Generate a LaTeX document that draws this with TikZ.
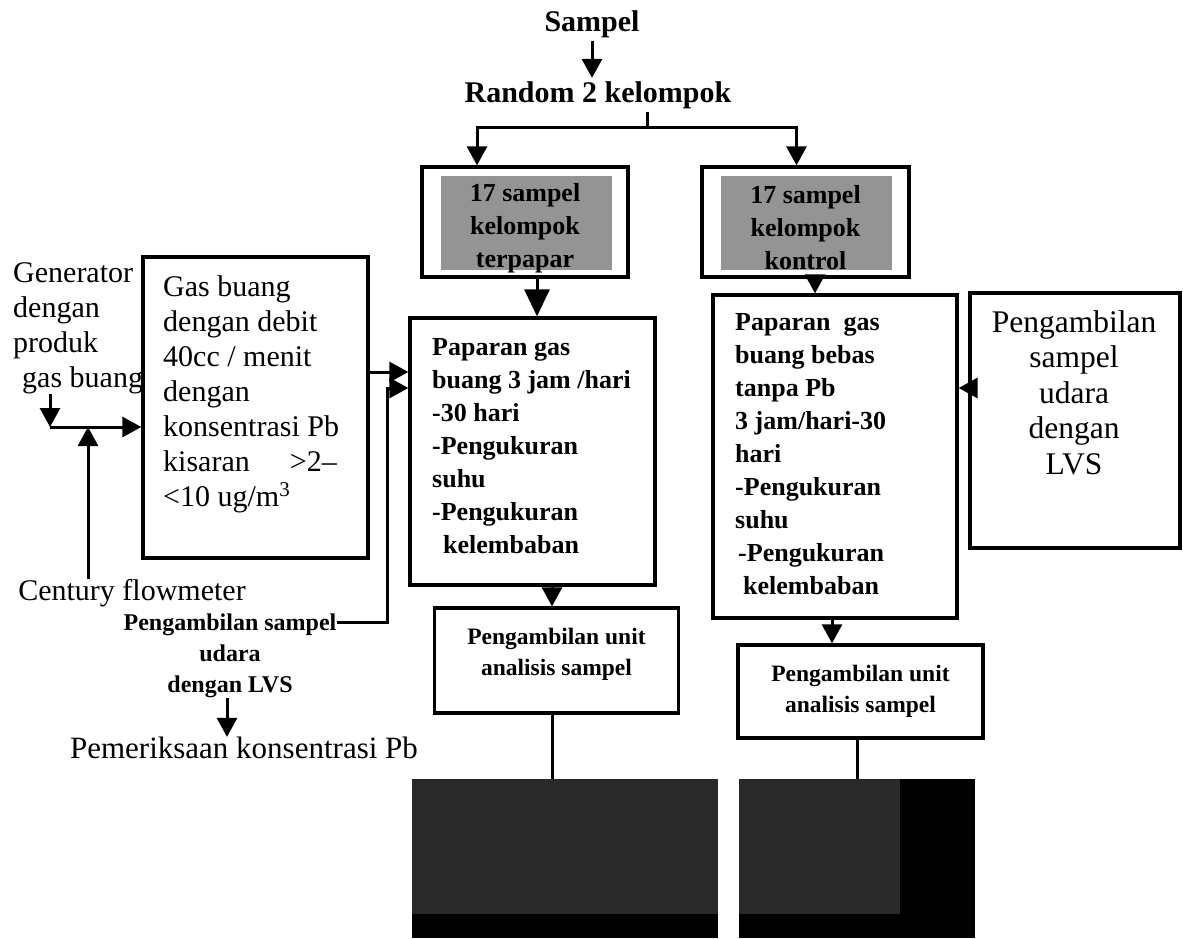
\documentclass[tikz,border=0pt]{standalone}
\usepackage{fontspec}
\setmainfont{Liberation Serif}
\usetikzlibrary{arrows.meta, backgrounds, calc}
\tikzset{
    frame/.style={rectangle, draw=black, line width=3.3pt, inner sep=0pt},
    grpbox/.style={frame, minimum width=206pt, minimum height=110pt, align=center, font=\fontsize{26}{33}\selectfont\bfseries},
    anabox/.style={frame, minimum width=244pt, align=center, font=\fontsize{23.5}{31}\selectfont\bfseries},
    headlbl/.style={font=\fontsize{30}{34}\selectfont\bfseries},
    plainlbl/.style={inner sep=0pt, align=left, font=\fontsize{30}{35}\selectfont},
    steplbl/.style={inner sep=0pt, align=left, font=\fontsize{26}{33}\selectfont\bfseries},
    smalllbl/.style={inner sep=0pt, align=center, font=\fontsize{24}{31}\selectfont\bfseries},
    dotfill/.style={fill=black!42},
    photo/.style={fill=black!84},
    arr/.style={-{Triangle[length=19pt, width=20pt]}, line width=3pt},
    bigarr/.style={-{Triangle[length=27pt, width=25pt]}, line width=3pt},
    link/.style={line width=3pt}
}

\begin{document}
\begin{tikzpicture}[x=1pt, y=-1pt]
    \useasboundingbox (0,0) rectangle (1183,938);

    % top of the flow
    \node[headlbl] (sampel) at (592,24) {Sampel};
    \node[headlbl] (random) at (598,95) {Random 2 kelompok};
    \coordinate (fork) at (647,127);

    % the two groups
    \node[grpbox] (grpA) at (525,222) {\rule{0pt}{30pt}17 sampel\\kelompok\\terpapar};
    \node[grpbox, minimum width=207pt] (grpB) at (805.5,222) {\rule{0pt}{30pt}17 sampel\\kelompok\\kontrol};

    % exposure boxes
    \node[frame, minimum width=245pt, minimum height=267pt] (expA) at (532.5,451.5) {};
    \node[steplbl, anchor=north west] (expAtxt) at (432,338) {Paparan gas\\buang 3 jam /hari\\-30 hari\\-Pengukuran\\suhu\\-Pengukuran\\\hspace*{11pt}kelembaban};
    \node[frame, minimum width=244pt, minimum height=323pt] (expB) at (835,456.5) {};
    \node[steplbl, anchor=north west] (expBtxt) at (735,313) {Paparan\ \ gas\\buang bebas\\tanpa Pb\\3 jam/hari-30\\hari\\-Pengukuran\\suhu\\\hspace*{3pt}-Pengukuran\\\hspace*{8pt}kelembaban};

    % air sampling (right)
    \node[frame, minimum width=210pt, minimum height=255pt] (lvsbox) at (1075,420.5) {};
    \node[plainlbl, align=center, anchor=north, font=\fontsize{31.5}{35.5}\selectfont] (lvstxt) at (1074,310) {Pengambilan\\sampel\\udara\\dengan\\LVS};

    % gas source (left)
    \node[plainlbl, anchor=north west] (gen) at (13,262) {Generator\\dengan\\produk\\\hspace*{9pt}gas buang};
    \node[frame, minimum width=225pt, minimum height=301pt] (gas) at (255.5,407.5) {};
    \node[plainlbl, anchor=north west] (gastxt) at (163,275) {Gas buang\\dengan debit\\40cc / menit\\dengan\\konsentrasi Pb\\kisaran\hspace{40pt}>2–\\<10 ug/m\textsuperscript{3}};
    \coordinate (join) at (50,427);
    \coordinate (meet) at (88,427);
    \node[plainlbl] (flow) at (132,593) {Century flowmeter};
    \node[smalllbl] (lvslbl) at (230,656) {Pengambilan sampel\\udara\\dengan LVS};
    \node[plainlbl, font=\fontsize{31}{35}\selectfont] (periksa) at (244,748) {Pemeriksaan konsentrasi Pb};

    % analysis units
    \node[anabox, minimum height=105pt] (anaA) at (556.5,660.5) {Pengambilan unit\\analisis sampel\\[-14pt]};
    \node[anabox, minimum width=245pt, minimum height=93pt] (anaB) at (860.5,691.5) {Pengambilan unit\\analisis sampel};

    % photos
    \node[photo, minimum width=306pt, minimum height=159pt, inner sep=0pt] (picA) at (565,858.5) {};
    \fill[black] (412,914) rectangle (718,938);
    \node[fill=black, minimum width=236pt, minimum height=159pt, inner sep=0pt] (picB) at (857,858.5) {};
    \fill[photo] (739,779) rectangle (900,914);

    % connectors
    \draw[arr] (sampel.south -| 592,0) -- (random.north -| 592,0);
    \draw[link] (random.south -| fork) -- (fork);
    \draw[arr] (fork) -| ([xshift=-48pt]grpA.north);
    \draw[arr] (fork) -| ([xshift=-9pt]grpB.north);
    \draw[bigarr] (grpA.south -| 537,0) -- (expA.north -| 537,0);
    \draw[arr] (grpB.south -| 815,0) -- (expB.north -| 815,0);
    \draw[arr] (gen.south -| join) -- (join);
    \draw[arr] (join) -- (join -| gas.west);
    \draw[arr] (flow.north -| meet) -- (meet);
    \draw[arr] (gas.east |- 0,372) -- (expA.west |- 0,372);
    \draw[arr] (lvslbl.east |- 0,622) -- (387,622) -- (387,388) -- (expA.west |- 0,388);
    \draw[arr] (lvslbl.south -| 227,0) -- (periksa.north -| 227,0);
    \draw[arr] (lvsbox.west |- 0,388) -- (expB.east |- 0,388);
    \draw[arr] (expA.south -| 552,0) -- (anaA.north -| 552,0);
    \draw[arr] (expB.south -| 832,0) -- (anaB.north -| 832,0);
    \draw[link] (anaA.south -| 552,0) -- (picA.north -| 552,0);
    \draw[link] (anaB.south -| 857,0) -- (picB.north -| 857,0);

    \begin{scope}[on background layer]
        \fill[white] (0,0) rectangle (1183,938);
        \fill[dotfill] ([shift={(21pt,-11pt)}]grpA.north west) rectangle ([shift={(-18pt,9pt)}]grpA.south east);
        \fill[dotfill] ([shift={(21pt,-11pt)}]grpB.north west) rectangle ([shift={(-19pt,9pt)}]grpB.south east);
    \end{scope}
\end{tikzpicture}
\end{document}
